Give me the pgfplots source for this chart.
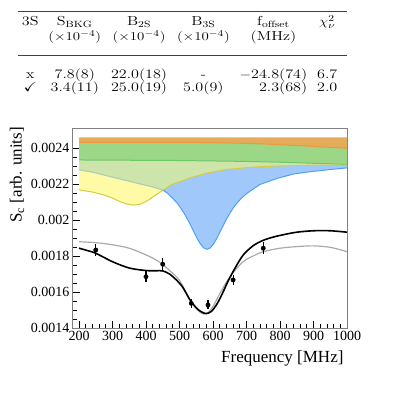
\documentclass[border=0pt]{standalone}
\usepackage{pgfplots}
\pgfplotsset{compat=1.18}
\usepackage{pgfplotstable}
\usepackage{fontspec}
\usepackage{amssymb}
\newfontfamily\timesf{Liberation Serif}

\definecolor{bandorange}{RGB}{228,172,90}
\definecolor{lineorange}{RGB}{240,150,60}
\definecolor{bandgreen}{RGB}{155,215,135}
\definecolor{linegreen}{RGB}{110,200,100}
\definecolor{bandlight}{RGB}{205,228,170}
\definecolor{bandyellow}{RGB}{255,250,165}
\definecolor{lineyellow}{RGB}{215,205,60}
\definecolor{bandblue}{RGB}{160,200,250}
\definecolor{lineblue}{RGB}{80,160,245}
\definecolor{linepale}{RGB}{170,205,180}
\definecolor{fitgray}{RGB}{170,170,170}

% measured points: frequency, signal, error
\pgfplotstableread{
f s e
250 0.001833 0.000032
400 0.001685 0.000032
450 0.001754 0.000032
535 0.001537 0.000025
585 0.001528 0.000025
660 0.001667 0.000030
750 0.001843 0.000032
}\points

% fit with 3S
\pgfplotstableread{
f s
200 0.001843
225 0.001830
250 0.001815
300 0.001768
350 0.001733
400 0.001719
430 0.001718
450 0.001717
470 0.001700
490 0.001668
510 0.001625
530 0.001560
550 0.001512
565 0.001490
580 0.001480
595 0.001492
610 0.001528
625 0.001580
645 0.001660
665 0.001730
690 0.001805
720 0.001857
750 0.001887
780 0.001905
810 0.001918
850 0.001932
900 0.001940
950 0.001940
1000 0.001932
}\fitblack

% fit without 3S
\pgfplotstableread{
f s
200 0.001879
250 0.001874
300 0.001862
350 0.001843
400 0.001806
430 0.001778
450 0.001752
475 0.001712
500 0.001665
520 0.001595
540 0.001530
560 0.001490
572 0.001478
585 0.001485
600 0.001520
620 0.001590
640 0.001655
660 0.001707
690 0.001768
720 0.001800
750 0.001824
800 0.001843
850 0.001852
900 0.001856
950 0.001848
1000 0.001824
}\fitgray

% band edges
\pgfplotstableread{
f s
200 0.002431
500 0.002431
650 0.002428
750 0.002422
850 0.002413
930 0.002405
1000 0.002398
}\Otab
\pgfplotstableread{
f s
200 0.002333
500 0.002330
700 0.002325
850 0.002318
1000 0.002308
}\Gtab
\pgfplotstableread{
f s
200 0.002167
240 0.002155
273 0.002139
300 0.002121
322 0.002102
340 0.002090
355 0.002084
370 0.002084
385 0.002089
405 0.002108
422 0.002130
451 0.002165
475 0.002195
501 0.002213
540 0.002238
581 0.002260
640 0.002280
700 0.002290
740 0.002296
800 0.002300
890 0.002304
1000 0.002305
}\Ytab
\pgfplotstableread{
f s
200 0.002278
240 0.002265
273 0.002250
320 0.002228
373 0.002204
420 0.002183
451 0.002165
463 0.002150
478 0.002123
493 0.002093
503 0.002068
513 0.002039
523 0.002007
533 0.001971
543 0.001933
553 0.001896
563 0.001865
572 0.001845
582 0.001837
592 0.001845
601 0.001865
611 0.001896
621 0.001933
631 0.001971
641 0.002007
651 0.002039
661 0.002068
671 0.002093
686 0.002123
701 0.002147
720 0.002172
740 0.002197
790 0.002230
840 0.002255
890 0.002268
950 0.002280
1000 0.002289
}\Btab

\begin{document}
\begin{tikzpicture}[x=1pt,y=1pt]
\useasboundingbox (0,0) rectangle (415,394);

% fit-result table
\node[anchor=base west, inner sep=0pt] at (18,368.3) {%
  \resizebox{329pt}{\height}{%
  \fontsize{13}{13.5}\selectfont
  \setlength{\tabcolsep}{4pt}%
  \begin{tabular}[t]{@{\hspace{3pt}}ccccrc@{\hspace{8pt}}}
    3S & S$_\mathrm{BKG}$ & B$_\mathrm{2S}$ & B$_\mathrm{3S}$ & \multicolumn{1}{c}{f$_\mathrm{offset}$} & $\chi^2_\nu$ \\[0.8pt]
     & $(\times10^{-4})$ & $(\times10^{-4})$ & $(\times10^{-4})$ & \multicolumn{1}{c}{(MHz)} & \\[23.5pt]
    x & 7.8(8) & 22.0(18) & - & $-$24.8(74) & 6.7 \\[-0.4pt]
    $\checkmark$ & 3.4(11) & 25.0(19) & 5.0(9) & 2.3(68) & 2.0 \\
  \end{tabular}}};
\draw[black!75, line width=1.1pt] (18,382.3) -- (347,382.3);
\draw[black!75, line width=0.8pt] (18,339) -- (347,339);

\begin{axis}[
    at={(73pt,66pt)}, anchor=south west,
    scale only axis,
    width=274pt, height=199pt,
    xmin=182, xmax=1000,
    ymin=0.0014, ymax=0.002505,
    xtick={200,300,...,1000},
    xticklabels={200,300,400,500,600,700,800,900,1000},
    ytick={0.0014,0.0016,0.0018,0.002,0.0022,0.0024},
    yticklabels={0.0014,0.0016,0.0018,0.002,0.0022,0.0024},
    scaled y ticks=false,
    minor x tick num=4,
    minor y tick num=3,
    tick align=inside,
    tick pos=left,
    major tick length=7pt,
    minor tick length=4pt,
    every tick/.style={black, line width=0.8pt},
    axis line style={gray, line width=1pt},
    /pgf/number format/assume math mode=true,
    tick label style={font=\timesf\fontsize{14}{16}\selectfont},
    xlabel={Frequency [MHz]},
    every axis x label/.style={at={(rel axis cs:1,0)}, anchor=north east, yshift=-19pt,
      font=\timesf\fontsize{17}{19}\selectfont},
]

% orange band
\addplot[fill=bandorange, draw=none] coordinates {
  (200,0.002459) (1000,0.002459)
  (1000,0.002398) (930,0.002405) (850,0.002413) (750,0.002422) (650,0.002428) (500,0.002431) (200,0.002431)
};
% green band
\addplot[fill=bandgreen, draw=none] coordinates {
  (200,0.002431) (500,0.002431) (650,0.002428) (750,0.002422) (850,0.002413) (930,0.002405) (1000,0.002398)
  (1000,0.002308) (850,0.002318) (700,0.002325) (500,0.002330) (200,0.002333)
};
% light green band (overlap)
\addplot[fill=bandlight, draw=none] coordinates {
  (200,0.002333) (500,0.002330) (700,0.002325) (850,0.002318) (1000,0.002308)
  (1000,0.002305) (890,0.002304) (800,0.002300) (740,0.002296) (700,0.002290) (640,0.002280)
  (581,0.002260) (540,0.002238) (501,0.002213) (475,0.002195) (451,0.002165)
  (420,0.002183) (373,0.002204) (320,0.002228) (273,0.002250) (240,0.002265) (200,0.002278)
};
% yellow band
\addplot[fill=bandyellow, draw=none] coordinates {
  (200,0.002278) (240,0.002265) (273,0.002250) (320,0.002228) (373,0.002204) (420,0.002183) (451,0.002165)
  (422,0.002130) (405,0.002108) (385,0.002089) (370,0.002084) (355,0.002084) (340,0.002090)
  (322,0.002102) (300,0.002121) (273,0.002139) (240,0.002155) (200,0.002167)
};
% blue band
\addplot[fill=bandblue, draw=none] coordinates {
  (451,0.002165) (475,0.002195) (501,0.002213) (540,0.002238) (581,0.002260) (640,0.002280)
  (700,0.002290) (740,0.002296) (800,0.002300) (890,0.002304) (1000,0.002305)
  (1000,0.002289) (950,0.002280) (890,0.002268) (840,0.002255) (790,0.002230) (740,0.002197)
  (720,0.002172) (701,0.002147) (686,0.002123) (671,0.002093) (661,0.002068) (651,0.002039)
  (641,0.002007) (631,0.001971) (621,0.001933) (611,0.001896) (601,0.001865) (592,0.001845)
  (582,0.001837) (572,0.001845) (563,0.001865) (553,0.001896) (543,0.001933) (533,0.001971)
  (523,0.002007) (513,0.002039) (503,0.002068) (493,0.002093) (478,0.002123) (463,0.002150)
};

\addplot[lineorange, line width=1pt] table[x=f, y=s]{\Otab};
\addplot[linegreen, line width=1pt] table[x=f, y=s]{\Gtab};
\addplot[lineyellow, line width=1pt] table[x=f, y=s]{\Ytab};
\addplot[linepale, line width=1pt, restrict x to domain=200:452] table[x=f, y=s]{\Btab};
\addplot[lineblue, line width=1pt, restrict x to domain=450:1000] table[x=f, y=s]{\Btab};

\addplot[fitgray, line width=1.2pt, smooth] table[x=f, y=s]{\fitgray};
\addplot[black, line width=1.6pt, smooth] table[x=f, y=s]{\fitblack};

\addplot[only marks, mark=*, mark size=2.2pt, black,
    error bars/.cd, y dir=both, y explicit,
    error bar style={line width=1.1pt}, error mark=none]
  table[x=f, y=s, y error=e]{\points};

\end{axis}

\node[rotate=90, anchor=east, inner sep=0pt, font=\timesf\fontsize{17}{19}\selectfont]
  at (17,267) {S\textsubscript{c} [arb. units]};
\end{tikzpicture}
\end{document}
